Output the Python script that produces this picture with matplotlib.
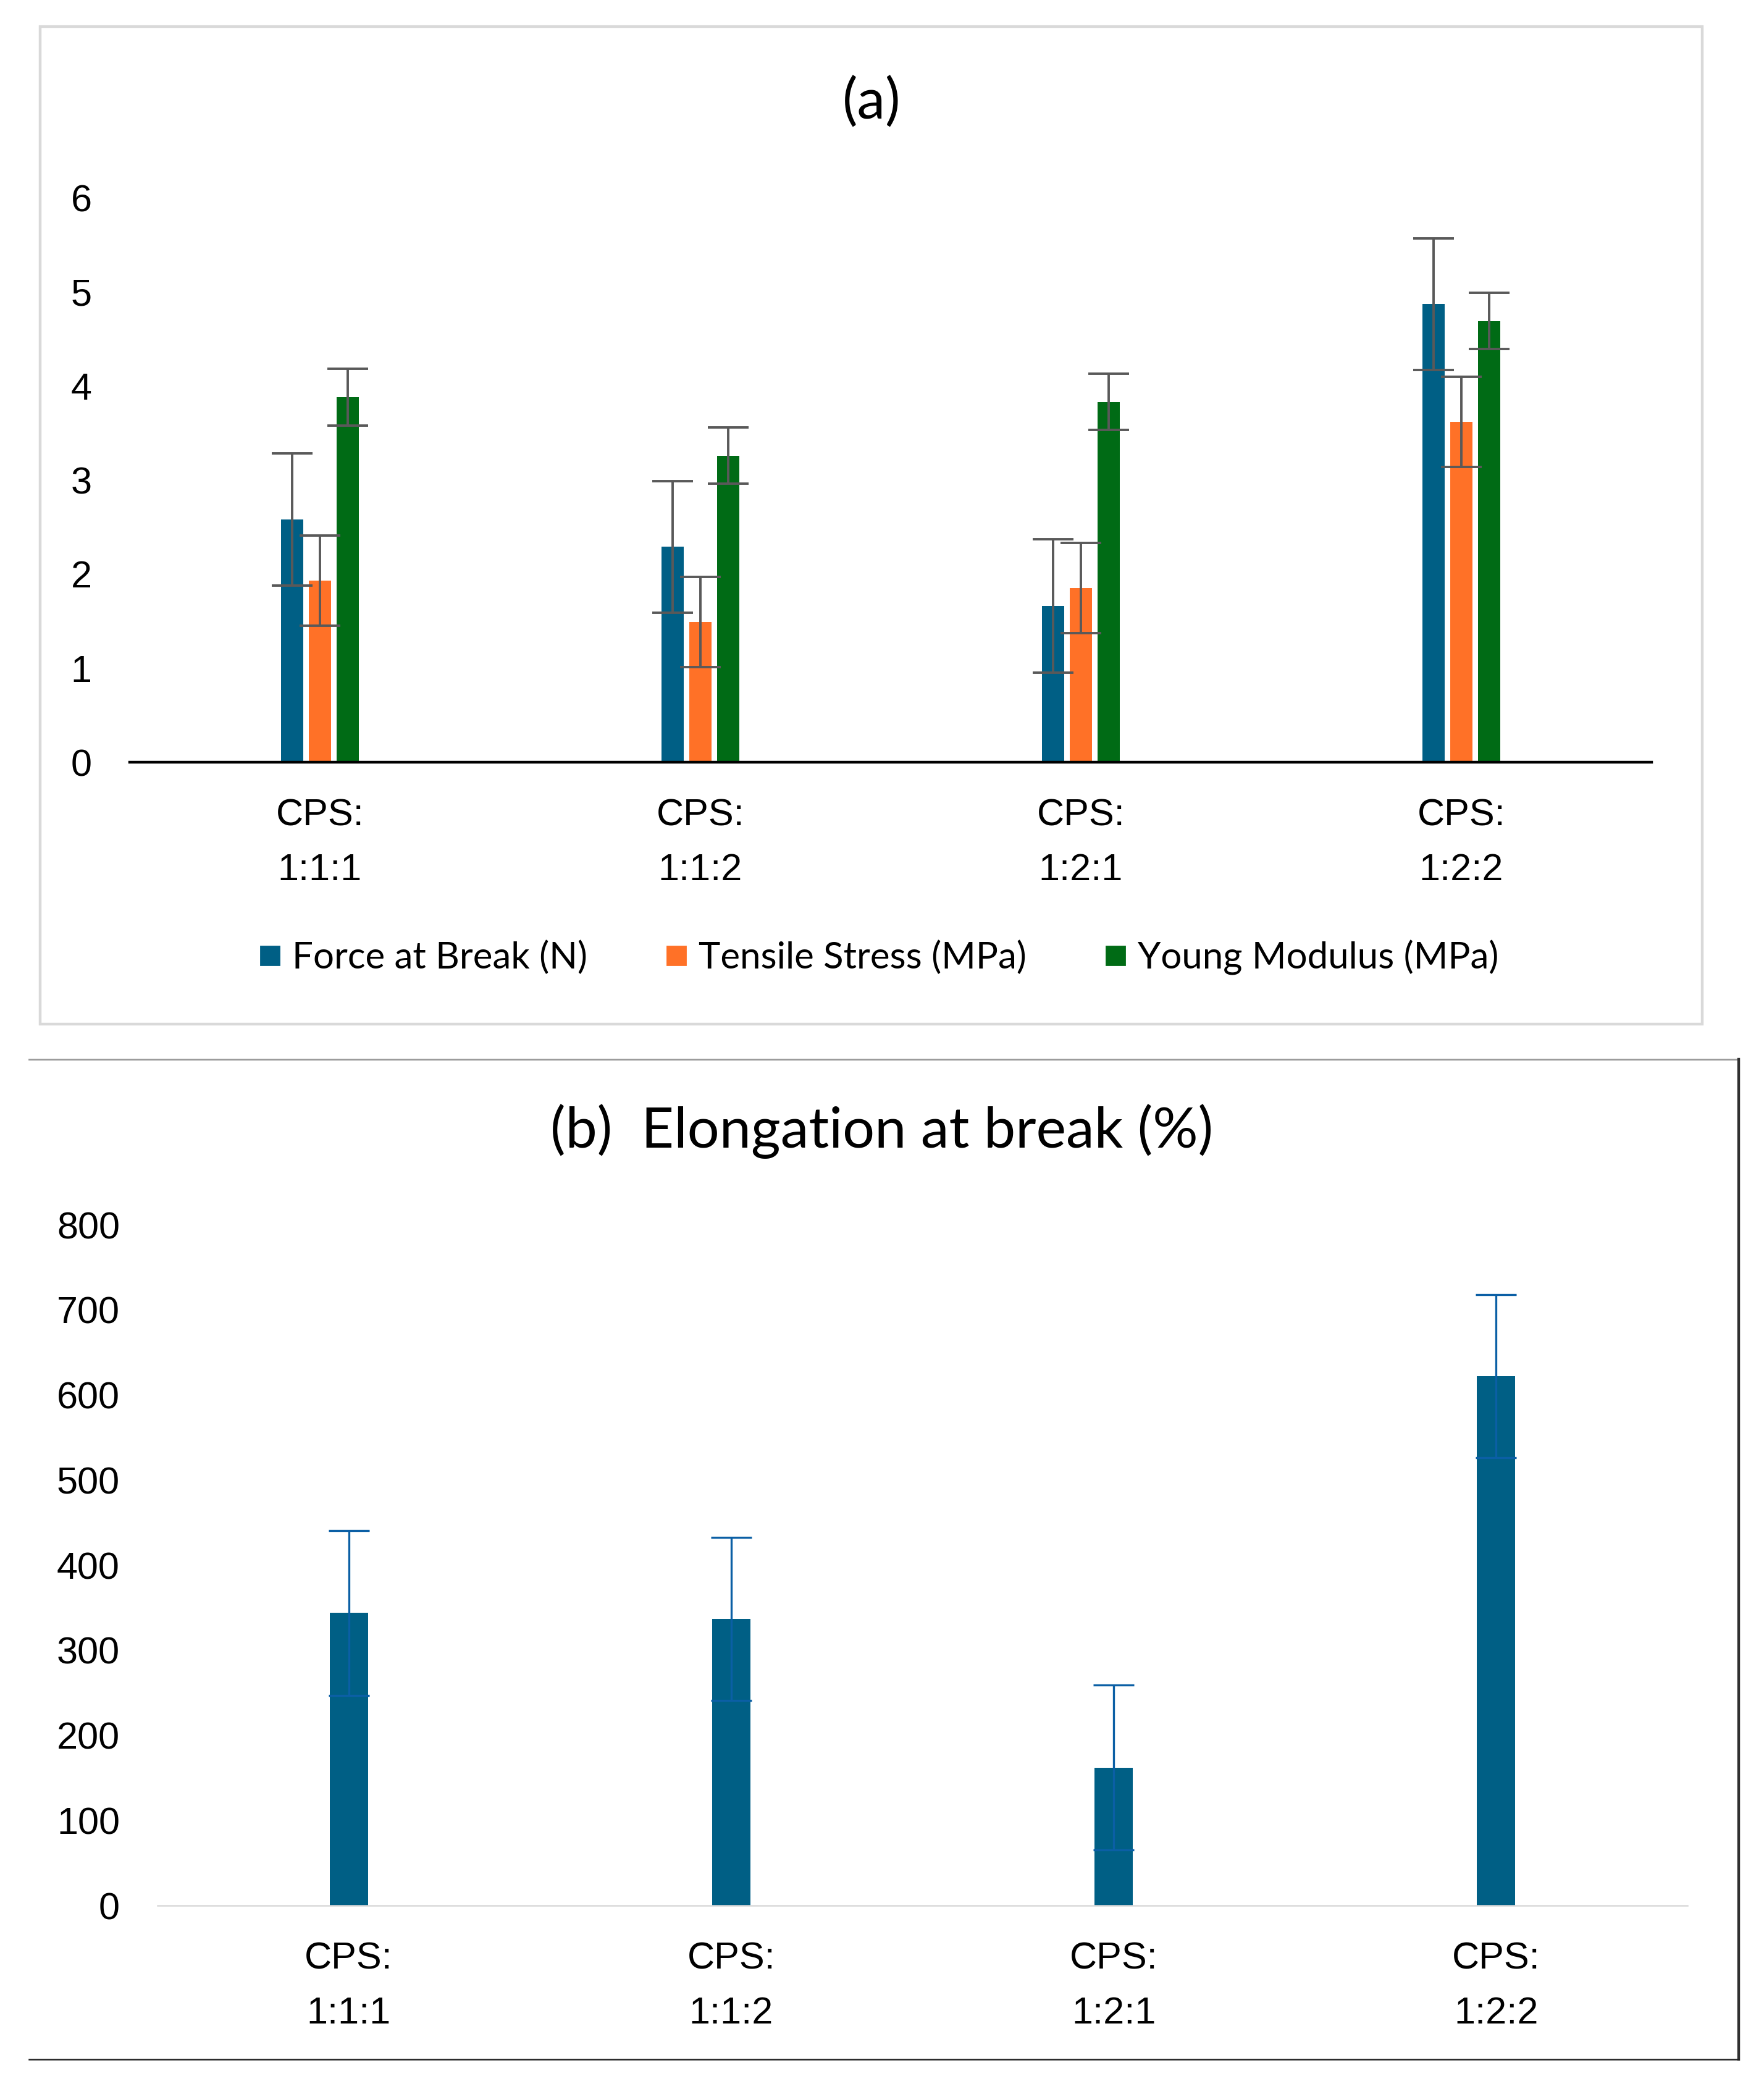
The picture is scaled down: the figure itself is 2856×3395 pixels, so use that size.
import numpy as np
import matplotlib
matplotlib.use('Agg')
import matplotlib.pyplot as plt
from matplotlib.lines import Line2D

# data
groups = ['CPS:\n1:1:1', 'CPS:\n1:1:2', 'CPS:\n1:2:1', 'CPS:\n1:2:2']

force = [2.58, 2.29, 1.66, 4.87]
force_err = [0.70, 0.70, 0.71, 0.70]
stress = [1.93, 1.49, 1.85, 3.62]
stress_err = [0.48, 0.48, 0.48, 0.48]
modulus = [3.88, 3.26, 3.83, 4.69]
modulus_err = [0.30, 0.30, 0.30, 0.30]

elongation = [344, 337, 162, 622]
elongation_err = [97, 96, 97, 96]

series_names = ['Force at Break (N)', 'Tensile Stress (MPa)', 'Young Modulus (MPa)']
colors = ['#005F85', '#FF7127', '#006B15']

tick_font = 'Liberation Sans'
title_font = 'Lato'

fig = plt.figure(figsize=(14.28, 16.975), dpi=200)

# ---- panel (a)
ax1 = fig.add_axes([0.0735, 0.6365, 0.8628, 0.2692])
x = np.arange(len(groups))
w = 0.058
step = 0.073
for i, (vals, errs) in enumerate([(force, force_err), (stress, stress_err), (modulus, modulus_err)]):
    ax1.bar(x + (i - 1) * step, vals, w, color=colors[i], label=series_names[i], zorder=2)
    ax1.errorbar(x + (i - 1) * step, vals, yerr=errs, fmt='none', ecolor='#595959',
                 elinewidth=1.4, capsize=12, capthick=1.4, zorder=3)

ax1.set_xlim(-0.5, 3.5)
ax1.set_ylim(0, 6)
ax1.set_yticks(range(0, 7))
ax1.set_xticks(x)
ax1.set_xticklabels(groups, linespacing=1.72)
for s in ['top', 'right', 'left']:
    ax1.spines[s].set_visible(False)
ax1.spines['bottom'].set_linewidth(1.6)
ax1.spines['bottom'].set_color('black')
ax1.tick_params(axis='both', length=0, labelsize=22)
ax1.tick_params(axis='y', pad=22)
ax1.tick_params(axis='x', pad=21)
for lab in ax1.get_xticklabels() + ax1.get_yticklabels():
    lab.set_fontfamily(tick_font)

fig.text(0.494, 0.951, '(a)', ha='center', va='center', fontsize=33, family=title_font)

handles = [Line2D([], [], marker='s', linestyle='none', markersize=11, color=c) for c in colors]
fig.legend(handles, series_names, loc='center', bbox_to_anchor=(0.498, 0.5434), ncol=3,
           frameon=False, prop={'family': title_font, 'size': 21.6},
           handlelength=0.6, handletextpad=0.3, columnspacing=2.1)

# frame around panel (a)
fig.add_artist(plt.Rectangle((0.0228, 0.5116), 0.9422, 0.4757, transform=fig.transFigure,
                             fill=False, edgecolor='#D9D9D9', linewidth=1.6))

# ---- panel (b)
ax2 = fig.add_axes([0.0893, 0.0913, 0.8673, 0.3246])
ax2.bar(x, elongation, 0.10, color='#005F85', zorder=2)
ax2.errorbar(x, elongation, yerr=elongation_err, fmt='none', ecolor='#0B5FA5',
             elinewidth=1.2, capsize=12, capthick=1.2, zorder=3)
ax2.set_xlim(-0.5, 3.5)
ax2.set_ylim(0, 800)
ax2.set_yticks(range(0, 801, 100))
ax2.set_xticks(x)
ax2.set_xticklabels(groups, linespacing=1.72)
for s in ['top', 'right', 'left']:
    ax2.spines[s].set_visible(False)
ax2.spines['bottom'].set_color('#D9D9D9')
ax2.spines['bottom'].set_linewidth(0.9)
ax2.tick_params(axis='both', length=0, labelsize=22)
ax2.tick_params(axis='y', pad=22)
ax2.tick_params(axis='x', pad=21)
for lab in ax2.get_xticklabels() + ax2.get_yticklabels():
    lab.set_fontfamily(tick_font)

fig.text(0.500, 0.4605, '(b)  Elongation at break (%)', ha='center', va='center',
         fontsize=33, family=title_font)

# partial frame around panel (b)
fig.add_artist(Line2D([0.0165, 0.9857], [0.4948, 0.4948], transform=fig.transFigure,
                      color='#9A9A9A', linewidth=1.0))
fig.add_artist(Line2D([0.9857, 0.9857], [0.4948, 0.0180], transform=fig.transFigure,
                      color='#303030', linewidth=1.6))
fig.add_artist(Line2D([0.0165, 0.9857], [0.0180, 0.0180], transform=fig.transFigure,
                      color='#202020', linewidth=0.9))

fig.savefig('out.png', dpi=200, facecolor='white')
